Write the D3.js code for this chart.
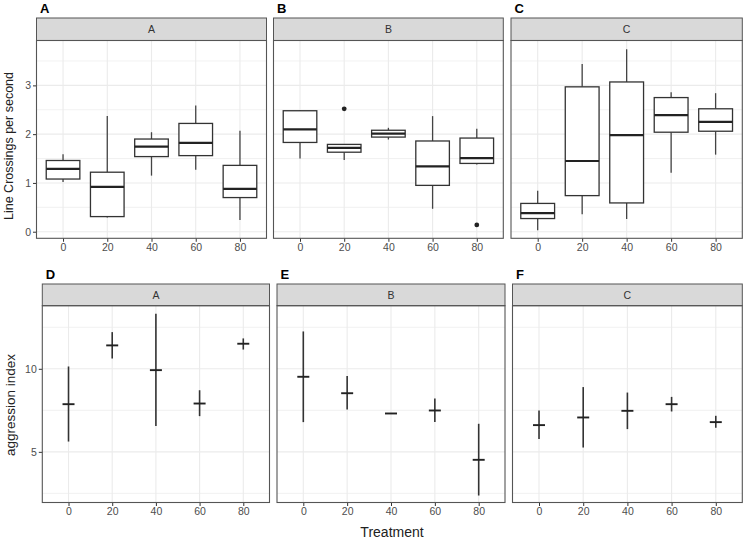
<!DOCTYPE html>
<html><head><meta charset="utf-8">
<script src="https://cdn.jsdelivr.net/npm/d3@7"></script>
<style>body{margin:0;background:#fff}svg{display:block}text{font-family:"Liberation Sans",Arial,sans-serif}</style>
</head><body>
<script>
// ---- data ----
const treatments = ["0","20","40","60","80"];
const groups = ["A","B","C"];
const panelLettersTop = ["A","B","C"];
const panelLettersBottom = ["D","E","F"];
// box stats: [lowerWhisker, q1, median, q3, upperWhisker]
const boxA = [[1.02,1.08,1.29,1.46,1.59],[0.29,0.31,0.92,1.22,2.37],[1.15,1.54,1.745,1.90,2.04],[1.27,1.56,1.82,2.22,2.59],[0.24,0.70,0.88,1.36,2.07]];
const boxB = [[1.50,1.83,2.10,2.48,2.49],[1.47,1.63,1.72,1.79,1.80],[1.89,1.94,2.01,2.08,2.13],[0.47,0.95,1.34,1.86,2.37],[1.38,1.40,1.51,1.92,2.11]];
const boxC = [[0.03,0.27,0.38,0.58,0.84],[0.36,0.74,1.45,2.97,3.44],[0.26,0.59,1.98,3.07,3.74],[1.21,2.04,2.39,2.75,2.86],[1.58,2.06,2.25,2.52,2.84]];
const outliersA = [];
const outliersB = [["20",2.52],["80",0.14]];
const outliersC = [];
// aggression: [low, mean, high]
const aggA = [[5.62,7.87,10.14],[10.62,11.41,12.21],[6.55,9.92,13.31],[7.15,7.91,8.71],[11.16,11.51,11.83]];
const aggB = [[6.79,9.52,12.25],[7.55,8.53,9.56],[7.31,7.31,7.31],[6.79,7.49,8.21],[2.37,4.52,6.69]];
const aggC = [[5.78,6.61,7.49],[5.26,7.07,8.90],[6.37,7.47,8.57],[7.43,7.87,8.31],[6.45,6.79,7.17]];
const topYTicks = [0,1,2,3];
const topYMinor = [0.5,1.5,2.5,3.5];
const botYTicks = [5,10];
const botYMinor = [2.5,7.5,12.5];

const boxes = [boxA, boxB, boxC];
const outliers = [outliersA, outliersB, outliersC];
const aggs = [aggA, aggB, aggC];

// ---- layout ----
const W = 746, H = 540;
const svg = d3.select("body").append("svg").attr("width", W).attr("height", H);
const topRow = {stripTop: 18, top: 40.5, bottom: 238.3, xr: [[36.5,266.5],[273.5,503.3],[511,742.3]]};
const botRow = {stripTop: 284, top: 305.7, bottom: 502.5, xr: [[42.3,269.5],[277,505],[512.5,742.3]]};
const yTop = d3.scaleLinear().domain([-0.135, 3.92]).range([topRow.bottom, topRow.top]);
const yBot = d3.scaleLinear().domain([1.95, 13.8]).range([botRow.bottom, botRow.top]);

const GRID = "#ebebeb", BORDER = "#555", TXT = "#4d4d4d";

function panelFrame(row, i, y, majors, minors, letter, yTicks) {
  const [l, r] = row.xr[i];
  const x = d3.scalePoint().domain(treatments).range([l, r]).padding(0.6);
  const g = svg.append("g");
  // grid
  g.selectAll(".ymin").data(minors).join("line")
    .attr("x1", l).attr("x2", r).attr("y1", d => y(d)).attr("y2", d => y(d))
    .attr("stroke", GRID).attr("stroke-width", 0.7);
  g.selectAll(".ymaj").data(majors).join("line")
    .attr("x1", l).attr("x2", r).attr("y1", d => y(d)).attr("y2", d => y(d))
    .attr("stroke", GRID).attr("stroke-width", 1.1);
  g.selectAll(".xmaj").data(treatments).join("line")
    .attr("x1", d => x(d)).attr("x2", d => x(d)).attr("y1", row.top).attr("y2", row.bottom)
    .attr("stroke", GRID).attr("stroke-width", 1.1);
  // strip
  g.append("rect").attr("x", l).attr("y", row.stripTop).attr("width", r - l).attr("height", row.top - row.stripTop)
    .attr("fill", "#d9d9d9").attr("stroke", BORDER).attr("stroke-width", 1);
  g.append("text").attr("x", (l + r) / 2).attr("y", (row.stripTop + row.top) / 2 + 3.7)
    .attr("text-anchor", "middle").attr("font-size", 10.5).attr("fill", "#333").text(groups[i]);
  // panel letter
  svg.append("text").attr("x", l + 3.5).attr("y", row.stripTop - 5.5)
    .attr("font-size", 13).attr("font-weight", "bold").attr("fill", "#000").text(letter);
  // x axis
  const ax = svg.append("g").attr("transform", `translate(0,${row.bottom})`)
    .call(d3.axisBottom(x).tickSize(3.5).tickPadding(2));
  ax.select(".domain").remove();
  ax.selectAll("line").attr("stroke", "#333");
  ax.selectAll("text").attr("fill", TXT).attr("font-size", 10.5).attr("font-family", '"Liberation Sans",Arial,sans-serif');
  if (i === 0) {
    const ay = svg.append("g").attr("transform", `translate(${l},0)`)
      .call(d3.axisLeft(y).tickValues(yTicks).tickFormat(d3.format("d")).tickSize(3.5).tickPadding(2));
    ay.select(".domain").remove();
    ay.selectAll("line").attr("stroke", "#333");
    ay.selectAll("text").attr("fill", TXT).attr("font-size", 10.5).attr("font-family", '"Liberation Sans",Arial,sans-serif');
  }
  return {x, g, l, r};
}

function border(row, i) {
  const [l, r] = row.xr[i];
  svg.append("rect").attr("x", l).attr("y", row.top).attr("width", r - l).attr("height", row.bottom - row.top)
    .attr("fill", "none").attr("stroke", BORDER).attr("stroke-width", 1.1);
}

// ---- top row: boxplots ----
for (let i = 0; i < 3; i++) {
  const {x, g} = panelFrame(topRow, i, yTop, topYTicks, topYMinor, panelLettersTop[i], topYTicks);
  const bw = x.step() * 0.76;
  const data = boxes[i].map((s, k) => ({t: treatments[k], s}));
  const bg = g.selectAll(".box").data(data).join("g");
  bg.append("line").attr("x1", d => x(d.t)).attr("x2", d => x(d.t))
    .attr("y1", d => yTop(d.s[4])).attr("y2", d => yTop(d.s[3])).attr("stroke", "#444").attr("stroke-width", 1.3);
  bg.append("line").attr("x1", d => x(d.t)).attr("x2", d => x(d.t))
    .attr("y1", d => yTop(d.s[1])).attr("y2", d => yTop(d.s[0])).attr("stroke", "#444").attr("stroke-width", 1.3);
  bg.append("rect").attr("x", d => x(d.t) - bw / 2).attr("width", bw)
    .attr("y", d => yTop(d.s[3])).attr("height", d => yTop(d.s[1]) - yTop(d.s[3]))
    .attr("fill", "#fff").attr("stroke", "#333").attr("stroke-width", 1.3);
  bg.append("line").attr("x1", d => x(d.t) - bw / 2).attr("x2", d => x(d.t) + bw / 2)
    .attr("y1", d => yTop(d.s[2])).attr("y2", d => yTop(d.s[2])).attr("stroke", "#222").attr("stroke-width", 2.2);
  g.selectAll(".out").data(outliers[i]).join("circle")
    .attr("cx", d => x(d[0])).attr("cy", d => yTop(d[1])).attr("r", 2.4).attr("fill", "#222");
  border(topRow, i);
}

// ---- bottom row: mean ± range ----
for (let i = 0; i < 3; i++) {
  const {x, g} = panelFrame(botRow, i, yBot, botYTicks, botYMinor, panelLettersBottom[i], botYTicks);
  const data = aggs[i].map((s, k) => ({t: treatments[k], s}));
  const pg = g.selectAll(".pr").data(data).join("g");
  pg.append("line").attr("x1", d => x(d.t)).attr("x2", d => x(d.t))
    .attr("y1", d => yBot(d.s[2])).attr("y2", d => yBot(d.s[0])).attr("stroke", "#333").attr("stroke-width", 1.6);
  pg.append("line").attr("x1", d => x(d.t) - 6).attr("x2", d => x(d.t) + 6)
    .attr("y1", d => yBot(d.s[1])).attr("y2", d => yBot(d.s[1])).attr("stroke", "#222").attr("stroke-width", 1.9);
  border(botRow, i);
}

// ---- axis titles ----
svg.append("text").attr("transform", "translate(13,146) rotate(-90)").attr("text-anchor", "middle")
  .attr("font-size", 12.5).attr("fill", "#222").text("Line Crossings per second");
svg.append("text").attr("transform", "translate(14.5,405) rotate(-90)").attr("text-anchor", "middle")
  .attr("font-size", 13.5).attr("fill", "#222").text("aggression index");
svg.append("text").attr("x", 392).attr("y", 537).attr("text-anchor", "middle")
  .attr("font-size", 14).attr("fill", "#222").text("Treatment");
</script>
</body></html>
